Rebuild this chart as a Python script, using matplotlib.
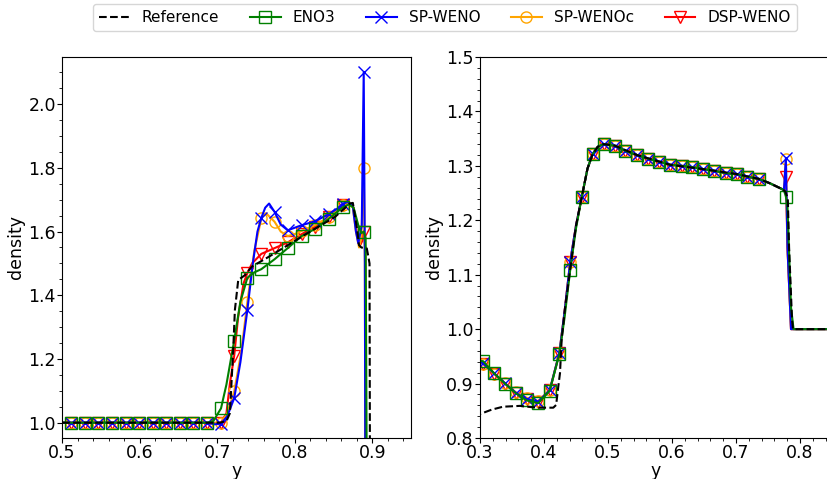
import numpy as np
import matplotlib
matplotlib.use('Agg')
import matplotlib.pyplot as plt

# ---- left panel data ----
# marker positions (every few cells)
xm_left = [0.512, 0.5295, 0.547, 0.5645, 0.582, 0.5995, 0.617, 0.6345, 0.652, 0.6695,
           0.687, 0.705, 0.722, 0.739, 0.757, 0.774, 0.791, 0.809, 0.826, 0.844, 0.862, 0.889]

x_flat = [0.5, 0.512, 0.5295, 0.547, 0.5645, 0.582, 0.5995, 0.617, 0.6345, 0.652, 0.6695, 0.687]
y_flat = [1.0, 1.0, 1.0, 1.0, 1.0, 1.0, 1.0, 1.0, 1.0, 1.0, 1.0, 1.0]

xl_ref = [0.5, 0.703, 0.712, 0.7165, 0.7207, 0.7229, 0.7272, 0.7358, 0.7448, 0.766, 0.809,
          0.852, 0.871, 0.875, 0.880, 0.883, 0.886, 0.893, 0.895, 0.8965, 0.897]
yl_ref = [1.0, 1.0, 1.005, 1.03, 1.228, 1.354, 1.448, 1.463, 1.49, 1.52, 1.584,
          1.646, 1.688, 1.69, 1.615, 1.557, 1.55, 1.547, 1.521, 1.50, 0.9]

xl_eno = x_flat + [0.695, 0.705, 0.712, 0.722, 0.730, 0.739, 0.748, 0.757, 0.774, 0.791, 0.809,
                   0.826, 0.844, 0.862, 0.870, 0.876, 0.882, 0.886, 0.889, 0.8915, 0.8928]
yl_eno = y_flat + [1.005, 1.045, 1.12, 1.258, 1.38, 1.455, 1.472, 1.482, 1.513, 1.548, 1.586,
                   1.608, 1.640, 1.676, 1.685, 1.675, 1.62, 1.595, 1.600, 1.58, 0.9]

xl_sp = x_flat + [0.697, 0.705, 0.713, 0.722, 0.730, 0.739, 0.746, 0.752, 0.757, 0.762, 0.767,
                  0.774, 0.782, 0.791, 0.800, 0.809, 0.826, 0.844, 0.855, 0.862, 0.869, 0.875,
                  0.879, 0.882, 0.8865, 0.889, 0.8905, 0.891]
yl_sp = y_flat + [0.995, 0.997, 1.02, 1.077, 1.19, 1.354, 1.50, 1.60, 1.643, 1.675, 1.688,
                  1.662, 1.622, 1.604, 1.612, 1.62, 1.632, 1.655, 1.672, 1.688, 1.693, 1.678,
                  1.60, 1.563, 1.62, 2.10, 1.5, 0.9]

xl_spc = x_flat + [0.697, 0.705, 0.713, 0.722, 0.731, 0.739, 0.748, 0.757, 0.763, 0.774, 0.782,
                   0.791, 0.800, 0.809, 0.826, 0.844, 0.862, 0.869, 0.875, 0.879, 0.883, 0.886,
                   0.889, 0.8905, 0.891]
yl_spc = y_flat + [0.996, 0.998, 1.03, 1.098, 1.22, 1.38, 1.54, 1.642, 1.658, 1.631, 1.60,
                   1.586, 1.592, 1.602, 1.62, 1.645, 1.684, 1.69, 1.675, 1.60, 1.55, 1.58,
                   1.80, 1.5, 0.9]

xl_dsp = x_flat + [0.697, 0.705, 0.712, 0.7165, 0.722, 0.727, 0.734, 0.739, 0.745, 0.757, 0.774,
                   0.791, 0.809, 0.826, 0.844, 0.862, 0.870, 0.876, 0.880, 0.884, 0.887, 0.889,
                   0.891, 0.8915]
yl_dsp = y_flat + [0.998, 1.0, 1.03, 1.124, 1.21, 1.33, 1.437, 1.47, 1.50, 1.53, 1.548,
                   1.566, 1.592, 1.615, 1.645, 1.684, 1.692, 1.675, 1.60, 1.555, 1.57, 1.60,
                   1.55, 0.9]

# ---- right panel data ----
xr = [0.29, 0.3, 0.305, 0.322, 0.339, 0.356, 0.373, 0.391, 0.409, 0.424, 0.432, 0.441, 0.45,
      0.459, 0.468, 0.476, 0.484, 0.493, 0.511, 0.527, 0.545, 0.563, 0.579, 0.597, 0.615, 0.632,
      0.649, 0.666, 0.684, 0.701, 0.718, 0.736, 0.753, 0.769, 0.775, 0.778, 0.7805, 0.786, 0.79, 0.85]
xm_right = [0.305, 0.322, 0.339, 0.356, 0.373, 0.391, 0.409, 0.424, 0.441, 0.459, 0.476, 0.493,
            0.511, 0.527, 0.545, 0.563, 0.579, 0.597, 0.615, 0.632, 0.649, 0.666, 0.684, 0.701,
            0.718, 0.736, 0.778]

yr_eno = [0.946, 0.942, 0.941, 0.919, 0.9, 0.882, 0.869, 0.864, 0.887, 0.954, 1.02, 1.109, 1.185,
          1.2425, 1.295, 1.3215, 1.335, 1.340, 1.337, 1.3276, 1.320, 1.313, 1.308, 1.302, 1.300, 1.2976,
          1.294, 1.291, 1.2866, 1.285, 1.280, 1.276, 1.268, 1.259, 1.255, 1.2436, 1.225, 1.04, 1.0, 1.0]
yr_sp = [0.945, 0.940, 0.937, 0.919, 0.9005, 0.883, 0.871, 0.867, 0.888, 0.956, 1.03, 1.124, 1.19,
         1.2425, 1.295, 1.3215, 1.335, 1.340, 1.337, 1.3276, 1.320, 1.313, 1.308, 1.302, 1.300, 1.2976,
         1.294, 1.291, 1.2866, 1.285, 1.280, 1.276, 1.268, 1.259, 1.256, 1.314, 1.15, 1.0, 1.0, 1.0]
yr_spc = [0.945, 0.940, 0.936, 0.918, 0.901, 0.884, 0.874, 0.868, 0.888, 0.956, 1.03, 1.124, 1.19,
          1.2425, 1.295, 1.3215, 1.335, 1.340, 1.337, 1.3276, 1.320, 1.313, 1.308, 1.302, 1.300, 1.2976,
          1.294, 1.291, 1.2866, 1.285, 1.280, 1.276, 1.268, 1.259, 1.256, 1.312, 1.15, 1.0, 1.0, 1.0]
yr_dsp = [0.945, 0.940, 0.936, 0.918, 0.9, 0.883, 0.871, 0.867, 0.888, 0.956, 1.03, 1.124, 1.19,
          1.2425, 1.295, 1.3215, 1.335, 1.340, 1.337, 1.3276, 1.320, 1.313, 1.308, 1.302, 1.300, 1.2976,
          1.294, 1.291, 1.2866, 1.285, 1.280, 1.276, 1.268, 1.259, 1.256, 1.280, 1.15, 1.0, 1.0, 1.0]

xr_ref = [0.29, 0.3, 0.318, 0.336, 0.3625, 0.389, 0.4145, 0.419, 0.4223, 0.425, 0.4276, 0.433, 0.441,
          0.45, 0.459, 0.468, 0.476, 0.484, 0.493, 0.511, 0.545, 0.597, 0.649, 0.701, 0.736, 0.753,
          0.769, 0.777, 0.781, 0.783, 0.7875, 0.789, 0.85]
yr_ref = [0.841, 0.844, 0.852, 0.8575, 0.859, 0.8557, 0.8557, 0.8607, 0.894, 0.919, 0.98, 1.04, 1.11,
          1.19, 1.2425, 1.295, 1.3215, 1.335, 1.340, 1.337, 1.320, 1.302, 1.294, 1.285, 1.276, 1.268,
          1.259, 1.253, 1.24, 1.15, 1.02, 1.0, 1.0]

names = ['ENO3', 'SP-WENO', 'SP-WENOc', 'DSP-WENO']
colors = ['green', 'blue', 'orange', 'red']
markers = ['s', 'x', 'o', 'v']
zorders = [2.4, 2.3, 2.2, 2.1]   # green drawn over blue over orange over red

fig = plt.figure(figsize=(8.27, 4.79), dpi=100)
ax1 = fig.add_axes([0.075, 0.0856, 0.422, 0.7954])
ax2 = fig.add_axes([0.5804, 0.0856, 0.4256, 0.7954])

left = [(xl_eno, yl_eno), (xl_sp, yl_sp), (xl_spc, yl_spc), (xl_dsp, yl_dsp)]
right = [(xr, yr_eno), (xr, yr_sp), (xr, yr_spc), (xr, yr_dsp)]

ax1.plot(xl_ref, yl_ref, 'k--', lw=1.5, label='Reference', zorder=2.5)
ax2.plot(xr_ref, yr_ref, 'k--', lw=1.5, label='Reference', zorder=2.5)
for (x, y), name, c, m, z in zip(left, names, colors, markers, zorders):
    ax1.plot(x, y, color=c, marker=m, mfc='none', ms=8, mew=1, lw=1.5, zorder=z,
             markevery=np.isin(x, xm_left).tolist(), label=name)
for (x, y), name, c, m, z in zip(right, names, colors, markers, zorders):
    ax2.plot(x, y, color=c, marker=m, mfc='none', ms=8, mew=1, lw=1.5, zorder=z,
             markevery=np.isin(x, xm_right).tolist(), label=name)

ax1.set_xlim(0.5, 0.95)
ax1.set_ylim(0.952, 2.148)
ax2.set_xlim(0.3, 0.85)
ax2.set_ylim(0.8, 1.5)
for ax in (ax1, ax2):
    ax.minorticks_on()
    ax.tick_params(labelsize=12.5, pad=1)
    ax.set_xlabel('y', fontsize=12.5, labelpad=0)
    ax.set_ylabel('density', fontsize=12.5, labelpad=2)

h, l = ax1.get_legend_handles_labels()
fig.legend(h, l, loc='center', bbox_to_anchor=(0.538, 0.9635), ncol=5, fontsize=11)

fig.savefig('out.png', dpi=100)
